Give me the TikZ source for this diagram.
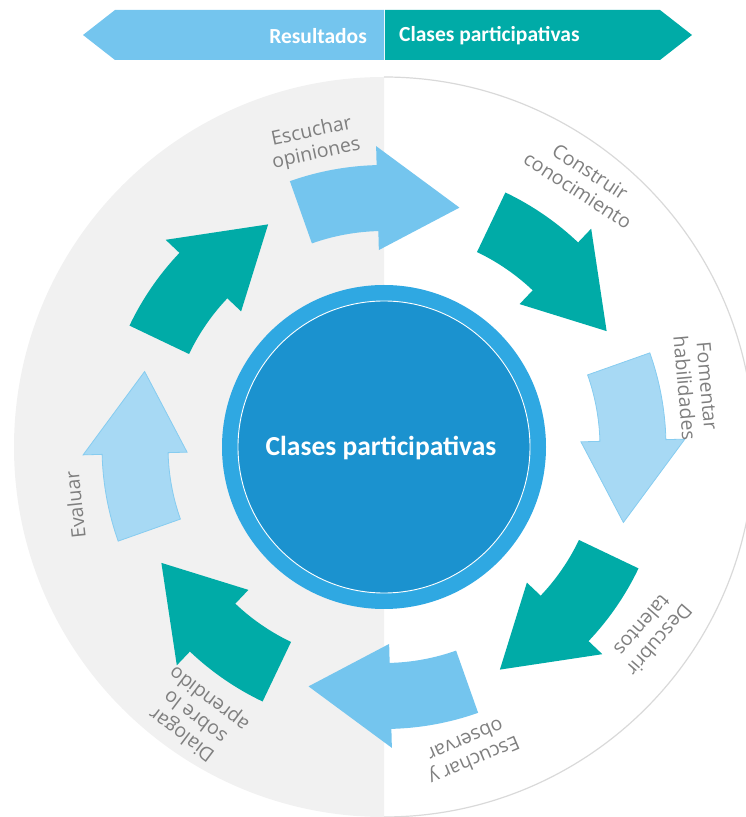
\documentclass[tikz,border=0pt]{standalone}
\usepackage{fontspec}
\newfontfamily\labfont{Open Sans}
\newfontfamily\headfont{Carlito}
\definecolor{skyblue}{HTML}{74C5EE}
\definecolor{paleblue}{HTML}{A7D9F4}
\definecolor{paleedge}{HTML}{86CCF0}
\definecolor{tealc}{HTML}{00ABA7}
\definecolor{ringblue}{HTML}{2FA8E2}
\definecolor{coreblue}{HTML}{1B92CF}
\definecolor{halfgray}{HTML}{F1F1F1}
\definecolor{rimgray}{HTML}{D9D9D9}
\definecolor{labgray}{HTML}{7F7F7F}
\newcommand\cyclearrow[2]{%
  \path[#2] ({#1+19.5}:282) arc[start angle={#1+19.5}, end angle={#1+1.5}, radius=282]
    -- ({#1+1.5}:301) -- ({#1-17.5}:251) -- ({#1+1.5}:197) -- ({#1+1.5}:216)
    arc[start angle={#1+1.5}, end angle={#1+19.5}, radius=216] -- cycle;}
\begin{document}
\begin{tikzpicture}[x=1pt,y=1pt,
  lab/.style={text=labgray, font=\labfont\fontsize{19.5}{22.5}\selectfont, align=center, inner sep=0pt},
  bannertext/.style={text=white, font=\headfont\bfseries\fontsize{21.5}{24}\selectfont, inner sep=0pt},
  arrowsky/.style={fill=skyblue},
  arrowteal/.style={fill=tealc},
  arrowpale/.style={fill=paleblue, draw=paleedge, line width=0.8pt, line join=miter}]
\useasboundingbox (0,0) rectangle (746,817);
\clip (0,0) rectangle (746,817);
\coordinate (C) at (384,370);
% background halves
\fill[halfgray] (C) ++(90:370) arc[start angle=90, end angle=270, radius=370] -- cycle;
\draw[rimgray, line width=1.2pt] (C) ++(90:370) arc[start angle=90, end angle=-90, radius=370];
% banner
\fill[skyblue] (83,782) -- (115,807) -- (384,807) -- (384,757) -- (115,757) -- cycle;
\fill[tealc] (385,807) -- (660,807) -- (692,782) -- (660,757) -- (385,757) -- cycle;
\node[bannertext, anchor=east] (res) at (367,781) {Resultados};
\node[bannertext, anchor=west] (cpt) at (399,781) {Clases participativas};
% arrows
\begin{scope}[shift={(C)}]
  \cyclearrow{90}{arrowsky}
  \cyclearrow{45}{arrowteal}
  \cyclearrow{0}{arrowpale}
  \cyclearrow{-45}{arrowteal}
  \cyclearrow{-90}{arrowsky}
  \cyclearrow{-135}{arrowteal}
  \cyclearrow{180}{arrowpale}
  \cyclearrow{135}{arrowteal}
\end{scope}
% center
\fill[ringblue] (C) circle[radius=162];
\fill[coreblue] (C) circle[radius=146];
\draw[white, line width=0.9pt] (C) circle[radius=146];
\node[text=white, font=\headfont\bfseries\fontsize{27.5}{30}\selectfont] (center) at (381,369) {Clases participativas};
% labels
\node[lab, rotate=12] (l1) at (314,674) {Escuchar\\opiniones};
\node[lab, rotate=-33] (l2) at (584,636) {Construir\\conocimiento};
\node[lab, rotate=-85] (l3) at (696,430) {Fomentar\\habilidades};
\node[lab, rotate=-131] (l4) at (651,184) {Descubrir\\talentos};
\node[lab, rotate=-157] (l5) at (470,66) {Escuchar y\\observar};
\node[lab, rotate=143] (l6) at (196,101) {Dialogar\\sobre lo\\aprendido};
\node[lab, rotate=96] (l7) at (75,312) {Evaluar};
\end{tikzpicture}
\end{document}
